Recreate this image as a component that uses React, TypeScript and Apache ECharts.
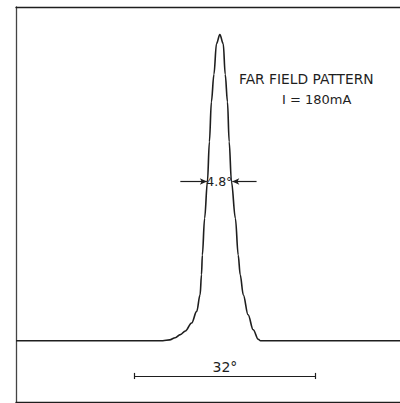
import React, { useEffect, useRef } from "react";
import * as echarts from "echarts";

// Far-field pattern: angle (degrees) vs normalised intensity
const angles = [
  -36, -10, -8.8, -7.8, -6.9, -6.0, -4.9, -4.0, -3.4, -3.15, -3.0, -2.6, -2.1, -1.75, -1.4, -0.95, -0.5,
  0.1,
  0.7, 1.05, 1.45, 1.75, 2.15, 2.85, 3.35, 3.7, 4.25, 5.1, 6.0, 6.9, 7.3, 32,
];
const intensity = [
  0, 0, 0.003, 0.01, 0.02, 0.032, 0.058, 0.096, 0.15, 0.216, 0.28, 0.4, 0.52, 0.65, 0.78, 0.87, 0.97,
  1.0,
  0.97, 0.87, 0.78, 0.65, 0.52, 0.4, 0.28, 0.216, 0.15, 0.085, 0.036, 0.005, 0, 0,
];

const title = "FAR FIELD PATTERN";
const subtitle = "I = 180mA";
const fwhmLabel = "4.8°";
const fwhmLevel = 0.52;
const fwhmArrowLeft = [-6.9, -2.2];
const fwhmArrowRight = [6.6, 2.3];
const scaleBar = [-15, 17];
const scaleBarLevel = -0.115;
const scaleLabel = "32°";

export default function App() {
  const ref = useRef<HTMLDivElement>(null);
  useEffect(() => {
    if (!ref.current) return;
    const chart = echarts.init(ref.current, undefined, { renderer: "svg" });
    const ink = "#1e1e1e";
    const font = "DejaVu Sans";
    const data = angles.map((a, i) => [a, intensity[i]]);
    chart.setOption({
      animation: false,
      backgroundColor: "#ffffff",
      grid: { left: 16, right: 0, top: 7, bottom: 1 },
      xAxis: [
        {
          type: "value",
          min: -36,
          max: 32,
          position: "bottom",
          axisLine: { show: true, onZero: false, lineStyle: { color: ink, width: 1.3 } },
          axisTick: { show: false },
          axisLabel: { show: false },
          splitLine: { show: false },
        },
        {
          type: "value",
          min: -36,
          max: 32,
          position: "top",
          axisLine: { show: true, onZero: false, lineStyle: { color: ink, width: 1.3 } },
          axisTick: { show: false },
          axisLabel: { show: false },
          splitLine: { show: false },
        },
      ],
      yAxis: {
        type: "value",
        min: -0.2,
        max: 1.09,
        axisLine: { show: true, onZero: false, lineStyle: { color: "#444", width: 1.3 } },
        axisTick: { show: false },
        axisLabel: { show: false },
        splitLine: { show: false },
      },
      series: [
        {
          type: "line",
          data,
          smooth: 0.35,
          smoothMonotone: "x",
          showSymbol: false,
          lineStyle: { color: ink, width: 1.6 },
          markLine: {
            silent: true,
            animation: false,
            lineStyle: { color: ink, width: 1.2, type: "solid" },
            label: { show: false },
            data: [
              [
                { coord: [fwhmArrowLeft[0], fwhmLevel], symbol: "none" },
                { coord: [fwhmArrowLeft[1], fwhmLevel], symbol: "arrow", symbolSize: [5, 7] },
              ],
              [
                { coord: [fwhmArrowRight[0], fwhmLevel], symbol: "none" },
                { coord: [fwhmArrowRight[1], fwhmLevel], symbol: "arrow", symbolSize: [5, 7] },
              ],
              [
                { coord: [scaleBar[0], scaleBarLevel], symbol: "none" },
                { coord: [scaleBar[1], scaleBarLevel], symbol: "none" },
              ],
              [
                { coord: [scaleBar[0], scaleBarLevel - 0.01], symbol: "none" },
                { coord: [scaleBar[0], scaleBarLevel + 0.01], symbol: "none" },
              ],
              [
                { coord: [scaleBar[1], scaleBarLevel - 0.01], symbol: "none" },
                { coord: [scaleBar[1], scaleBarLevel + 0.01], symbol: "none" },
              ],
            ],
          },
          markPoint: {
            silent: true,
            symbol: "circle",
            symbolSize: 0,
            data: [
              {
                coord: [0, fwhmLevel],
                label: {
                  show: true,
                  formatter: fwhmLabel,
                  position: "inside",
                  color: ink,
                  fontSize: 12.5,
                  fontFamily: font,
                },
              },
              {
                coord: [(scaleBar[0] + scaleBar[1]) / 2, scaleBarLevel + 0.03],
                label: {
                  show: true,
                  formatter: scaleLabel,
                  position: "inside",
                  color: ink,
                  fontSize: 14,
                  fontFamily: font,
                },
              },
            ],
          },
        },
      ],
      graphic: [
        {
          type: "text",
          left: 239,
          top: 72,
          style: {
            text: title,
            fontSize: 13.8,
            fontFamily: font,
            fill: ink,
          },
        },
        {
          type: "text",
          left: 282,
          top: 93,
          style: {
            text: subtitle,
            fontSize: 13,
            fontFamily: font,
            fill: ink,
          },
        },
      ],
    });
    return () => chart.dispose();
  }, []);
  return <div ref={ref} style={{ width: 400, height: 403, position: "absolute", left: 0, top: 0 }} />;
}
